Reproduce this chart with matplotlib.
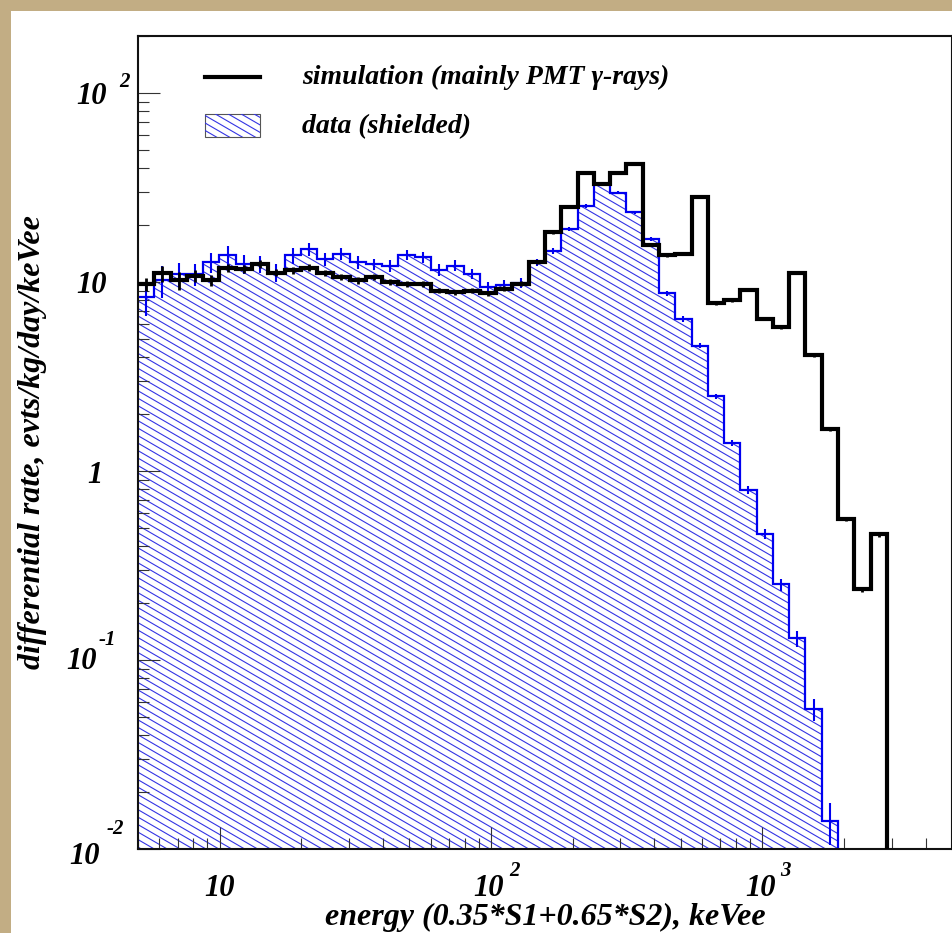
import numpy as np
import matplotlib
matplotlib.use("Agg")
import matplotlib.pyplot as plt
from matplotlib.collections import LineCollection
from matplotlib.patches import Rectangle
from matplotlib.lines import Line2D
from matplotlib.ticker import LogLocator, NullFormatter

plt.rcParams['font.family'] = ['Liberation Serif', 'DejaVu Serif']
plt.rcParams['font.weight'] = 'bold'
plt.rcParams['font.style'] = 'italic'

# 50 equal log bins between 5 and 5000 keVee
E_MIN, E_MAX, N_BINS = 5.0, 5000.0, 50
bin_edges = np.geomspace(E_MIN, E_MAX, N_BINS + 1)

# simulation (mainly PMT gamma-rays), evts/kg/day/keVee
sim_rate = [9.75, 11.1, 10.2, 10.8, 10.2, 11.9, 11.7, 12.4, 11.2, 11.5,
            11.9, 11.2, 10.6, 10.2, 10.6, 10.0, 9.75, 9.75, 9.0, 8.8,
            9.0, 8.7, 9.2, 9.8, 12.7, 18.3, 24.8, 37.9, 32.9, 37.5,
            42.3, 15.6, 13.8, 14.0, 28.0, 7.7, 8.0, 9.1, 6.4, 5.75,
            11.2, 4.1, 1.66, 0.558, 0.236, 0.462, 0, 0, 0, 0]
sim_err = [0.8, 1.1, 1.1, 0.8, 0.7, 0.6, 0.6, 0.6, 0.5, 0.5,
           0.5, 0.4, 0.4, 0.4, 0.4, 0.35, 0.35, 0.35, 0.3, 0.3,
           0.3, 0.3, 0.3, 0.3, 0.3, 0.3, 0.3, 0.3, 0.3, 0.3,
           0.3, 0.2, 0.2, 0.2, 0.2, 0.15, 0.15, 0.15, 0.12, 0.12,
           0.15, 0.08, 0.04, 0.015, 0.008, 0.012, 0, 0, 0, 0]

# data (shielded)
data_rate = [8.3, 10.2, 11.0, 11.0, 12.7, 13.8, 12.4, 12.4, 11.2, 13.8,
             14.9, 13.2, 14.1, 12.7, 12.4, 12.2, 13.9, 13.5, 11.6, 12.2,
             11.0, 9.35, 9.6, 9.9, 12.7, 14.6, 19.0, 25.3, 32.9, 29.7,
             23.3, 16.9, 8.7, 6.37, 4.6, 2.48, 1.41, 0.797, 0.466, 0.251,
             0.130, 0.0548, 0.0140, 0, 0, 0, 0, 0, 0, 0]
data_err = [1.7, 2.0, 1.6, 1.5, 1.6, 1.6, 1.4, 1.3, 1.2, 1.3,
            1.2, 1.1, 1.1, 1.0, 0.9, 0.9, 0.9, 0.9, 0.8, 0.8,
            0.7, 0.6, 0.6, 0.6, 0.5, 0.5, 0.5, 0.6, 0.6, 0.6,
            0.5, 0.4, 0.3, 0.2, 0.15, 0.08, 0.05, 0.04, 0.03, 0.018,
            0.013, 0.007, 0.0035, 0, 0, 0, 0, 0, 0, 0]

BLUE = '#0000f0'
HATCH_BLUE = '#3434e4'
FLOOR = 1e-6
TXT = dict(fontweight='bold', fontstyle='italic')


def hatch_lines(ax, clip_patch, slope=0.58, step=0.0092):
    """Thin diagonal lines clipped to a patch (ROOT style fill)."""
    segs = [[(0, c), (1, c - slope)] for c in np.arange(-0.2, 1.7, step)]
    lc = LineCollection(segs, transform=ax.transAxes, colors=HATCH_BLUE,
                        linewidths=0.8, zorder=1)
    ax.add_collection(lc, autolim=False)
    lc.set_clip_path(clip_patch)
    return lc


def power_label(ax, trans, xy, base, exp, base_off, exp_off, base_ha='right'):
    ax.annotate(base, xy=xy, xycoords=trans, xytext=base_off, textcoords='offset pixels',
                ha=base_ha, va='center', fontsize=22, annotation_clip=False, **TXT)
    if exp:
        ax.annotate(exp, xy=xy, xycoords=trans, xytext=exp_off, textcoords='offset pixels',
                    ha='left', va='center', fontsize=15, annotation_clip=False, **TXT)


fig = plt.figure(figsize=(9.53, 9.33), dpi=100)
fig.patch.set_facecolor('#c2ad84')
fig.add_artist(Rectangle((11 / 953, 0), 1, 1 - 11 / 933, transform=fig.transFigure,
                         facecolor='white', edgecolor='none', zorder=0))

ax = fig.add_axes([138 / 953, 84 / 933, 814 / 953, 813 / 933])
ax.set_xscale('log')
ax.set_yscale('log')

data = np.array(data_rate)
sim = np.array(sim_rate)
centers = np.sqrt(bin_edges[:-1] * bin_edges[1:])

# shielded data: hatched area, outline, error bars
fill = ax.stairs(np.clip(data, FLOOR, None), bin_edges, baseline=FLOOR, fill=True,
                 facecolor='none', edgecolor='none')
hatch_lines(ax, fill)
ax.stairs(np.clip(data, FLOOR, None), bin_edges, baseline=None, color=BLUE,
          linewidth=1.6, zorder=2)
m = data > 0
ax.errorbar(centers[m], data[m], yerr=np.array(data_err)[m], fmt='none',
            ecolor=BLUE, elinewidth=1.5, capsize=0, zorder=2)

# simulation on top
ax.stairs(np.clip(sim, FLOOR, None), bin_edges, baseline=None, color='black',
          linewidth=3.0, zorder=4)
m = sim > 0
ax.errorbar(centers[m], sim[m], yerr=np.array(sim_err)[m], fmt='none',
            ecolor='black', elinewidth=2.0, capsize=0, zorder=4)

ax.set_xlim(E_MIN, E_MAX)
ax.set_ylim(0.01, 200)

for axis in (ax.xaxis, ax.yaxis):
    axis.set_major_locator(LogLocator(base=10))
    axis.set_minor_locator(LogLocator(base=10, subs=np.arange(2, 10)))
    axis.set_minor_formatter(NullFormatter())
ax.tick_params(which='both', direction='in', top=False, right=False,
               labelleft=False, labelbottom=False, color='#333333', width=0.8)
ax.tick_params(which='major', length=15.5)
ax.tick_params(which='minor', length=8)
for s in ax.spines.values():
    s.set_linewidth(1.5)
    s.set_color('#111111')

# ROOT-like power-of-ten tick labels
ytr = ax.get_yaxis_transform()
power_label(ax, ytr, (0, 100), '10', '2', (-31, -4), (-19, 11))
power_label(ax, ytr, (0, 10), '10', '', (-31, -4), None)
power_label(ax, ytr, (0, 1), '1', '', (-35, -5), None)
power_label(ax, ytr, (0, 0.1), '10', '-1', (-41, -2), (-39, 20))
power_label(ax, ytr, (0, 0.01), '10', '-2', (-38, -8), (-31, 20))

xtr = ax.get_xaxis_transform()
power_label(ax, xtr, (10, 0), '10', '', (0, -40), None, base_ha='center')
power_label(ax, xtr, (100, 0), '10', '2', (-2, -40), (18, -22), base_ha='center')
power_label(ax, xtr, (1000, 0), '10', '3', (-2, -40), (18, -22), base_ha='center')

ax.set_xlabel('energy (0.35*S1+0.65*S2), keVee', fontsize=23, va='center', **TXT)
ax.xaxis.set_label_coords(0.5, -(917 - 849) / 813)
ax.set_ylabel('differential rate, evts/kg/day/keVee', fontsize=23, va='center', **TXT)
ax.yaxis.set_label_coords((33 - 138) / 814, 0.5)

# legend
ax.add_line(Line2D([0.0823, 0.150], [0.9496, 0.9496], transform=ax.transAxes,
                   color='black', linewidth=3.0))
box = Rectangle((0.0823, 0.8758), 0.0676, 0.0283, transform=ax.transAxes,
                facecolor='white', edgecolor='#555555', linewidth=0.8, zorder=3)
ax.add_patch(box)
hl = hatch_lines(ax, box)
hl.set_zorder(3.5)
ax.text(0.2015, 0.9496, 'simulation (mainly PMT γ-rays)', transform=ax.transAxes,
        fontsize=20, va='center', ha='left', **TXT)
ax.text(0.2015, 0.889, 'data (shielded)', transform=ax.transAxes,
        fontsize=20, va='center', ha='left', **TXT)

fig.savefig('out.png', dpi=100)
